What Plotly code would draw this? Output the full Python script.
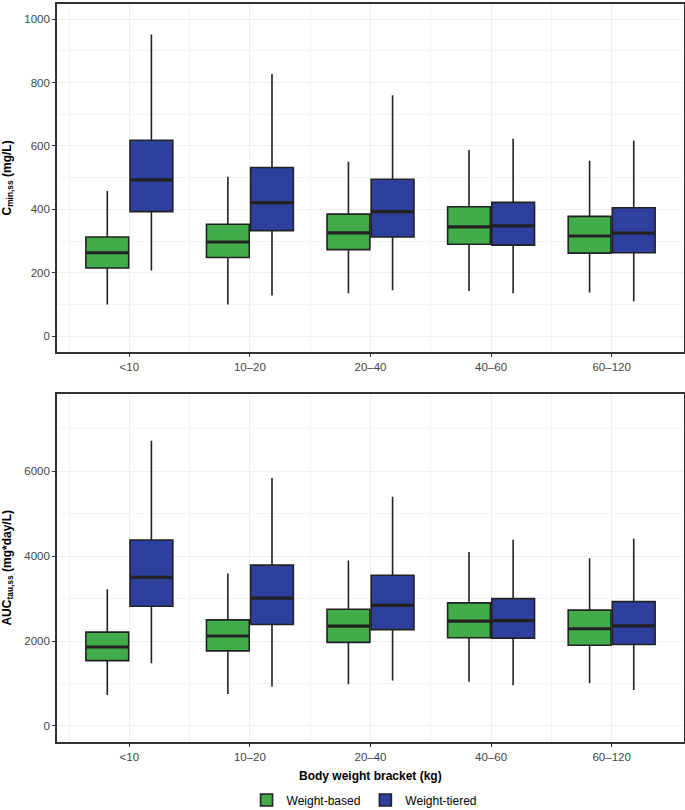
import plotly.graph_objects as go

categories = ["<10", "10–20", "20–40", "40–60", "60–120"]
groups = ["Weight-based", "Weight-tiered"]

# Cmin,ss (mg/L)
cmin_based_low = [100, 100, 135, 142, 138]
cmin_based_q1 = [215, 248, 273, 290, 262]
cmin_based_med = [263, 297, 326, 345, 316]
cmin_based_q3 = [313, 353, 385, 408, 378]
cmin_based_high = [458, 503, 550, 587, 553]

cmin_tiered_low = [207, 128, 145, 135, 110]
cmin_tiered_q1 = [393, 333, 313, 287, 263]
cmin_tiered_med = [493, 421, 393, 348, 325]
cmin_tiered_q3 = [618, 532, 495, 422, 405]
cmin_tiered_high = [952, 827, 760, 623, 617]

# AUCtau,ss (mg*day/L)
auc_based_low = [730, 750, 980, 1040, 1010]
auc_based_q1 = [1540, 1770, 1970, 2080, 1900]
auc_based_med = [1860, 2120, 2350, 2470, 2290]
auc_based_q3 = [2210, 2500, 2750, 2900, 2730]
auc_based_high = [3220, 3590, 3900, 4100, 3950]

auc_tiered_low = [1480, 930, 1070, 960, 850]
auc_tiered_q1 = [2820, 2390, 2270, 2070, 1920]
auc_tiered_med = [3500, 3010, 2840, 2480, 2360]
auc_tiered_q3 = [4380, 3790, 3550, 3000, 2930]
auc_tiered_high = [6720, 5840, 5400, 4390, 4410]

GREEN = "#42AB4A"
BLUE = "#2F3F9D"
EDGE = "#222222"
OFFSET = 0.183
BOXW = 0.355

idx = list(range(len(categories)))

fig = go.Figure()

def add_boxes(name, color, sign, low, q1, med, q3, high, xa, ya, show):
    xs = [i + sign * OFFSET for i in idx]
    fig.add_trace(go.Box(
        name=name, x=xs, lowerfence=low, q1=q1, median=med, q3=q3, upperfence=high,
        width=BOXW, fillcolor=color, line=dict(color=EDGE, width=1.6),
        whiskerwidth=0, boxpoints=False, xaxis=xa, yaxis=ya,
        showlegend=show, legendgroup=name, hoverinfo="skip",
    ))
    # thick median segments
    mx, my = [], []
    for x, m in zip(xs, med):
        mx += [x - BOXW / 2, x + BOXW / 2, None]
        my += [m, m, None]
    fig.add_trace(go.Scatter(
        x=mx, y=my, mode="lines", line=dict(color=EDGE, width=3.2),
        xaxis=xa, yaxis=ya, showlegend=False, legendgroup=name, hoverinfo="skip",
    ))

add_boxes(groups[0], GREEN, -1, cmin_based_low, cmin_based_q1, cmin_based_med, cmin_based_q3, cmin_based_high, "x", "y", True)
add_boxes(groups[1], BLUE, 1, cmin_tiered_low, cmin_tiered_q1, cmin_tiered_med, cmin_tiered_q3, cmin_tiered_high, "x", "y", True)
add_boxes(groups[0], GREEN, -1, auc_based_low, auc_based_q1, auc_based_med, auc_based_q3, auc_based_high, "x2", "y2", False)
add_boxes(groups[1], BLUE, 1, auc_tiered_low, auc_tiered_q1, auc_tiered_med, auc_tiered_q3, auc_tiered_high, "x2", "y2", False)

FONT = "Liberation Sans, Arial, sans-serif"
axis_common = dict(
    showline=True, mirror=True, linecolor="#333333", linewidth=1.6,
    ticks="outside", ticklen=3, tickcolor="#333333", tickwidth=1,
    tickfont=dict(family=FONT, size=11.5, color="#444444"),
    showgrid=True, gridcolor="#EEEEEE", gridwidth=1, zeroline=False,
    automargin=False,
)

xaxis_common = dict(axis_common, range=[-0.6, 4.6], tickmode="array",
                    tickvals=idx, ticktext=categories,
                    minor=dict(tickmode="array", tickvals=[i + 0.5 for i in idx[:-1]] + [-0.5],
                               showgrid=True, gridcolor="#F4F4F4", ticklen=0))

TOP_DOM = [0.5285, 1.0]
BOT_DOM = [0.0, 0.4715]
title_font = dict(family=FONT, size=12, color="black")

fig.update_layout(
    width=685, height=810,
    margin=dict(l=57, r=1, t=4, b=68, autoexpand=False),
    paper_bgcolor="white", plot_bgcolor="white",
    font=dict(family=FONT, color="black"),
    xaxis=dict(xaxis_common, domain=[0, 1], anchor="y"),
    xaxis2=dict(xaxis_common, domain=[0, 1], anchor="y2"),
    yaxis=dict(axis_common, domain=TOP_DOM, anchor="x", range=[-50, 1048],
               tickvals=[0, 200, 400, 600, 800, 1000],
               minor=dict(tickvals=[100, 300, 500, 700, 900], showgrid=True, gridcolor="#F4F4F4", ticklen=0)),
    yaxis2=dict(axis_common, domain=BOT_DOM, anchor="x2", range=[-378, 7821],
                tickvals=[0, 2000, 4000, 6000],
                minor=dict(tickvals=[1000, 3000, 5000, 7000], showgrid=True, gridcolor="#F4F4F4", ticklen=0)),
    legend=dict(orientation="h", x=0.4897, xanchor="center", y=-0.0786, yanchor="middle",
                font=dict(family=FONT, size=12, color="black"), itemwidth=30),
    annotations=[
        dict(text="<b>Body weight bracket (kg)</b>", xref="paper", yref="paper",
             x=0.5, y=-0.0461, xanchor="center", yanchor="middle", showarrow=False, font=title_font),
        dict(text="<b>C<sub>min,ss</sub> (mg/L)</b>", xref="paper", yref="paper", textangle=-90,
             x=-0.0789, y=sum(TOP_DOM) / 2, xanchor="center", yanchor="middle", showarrow=False, font=title_font),
        dict(text="<b>AUC<sub>tau,ss</sub> (mg*day/L)</b>", xref="paper", yref="paper", textangle=-90,
             x=-0.0789, y=sum(BOT_DOM) / 2, xanchor="center", yanchor="middle", showarrow=False, font=title_font),
    ],
)

fig.write_html("out.html", config={"displayModeBar": False},
               post_script="document.body.style.margin='0';document.body.style.overflow='hidden';")
